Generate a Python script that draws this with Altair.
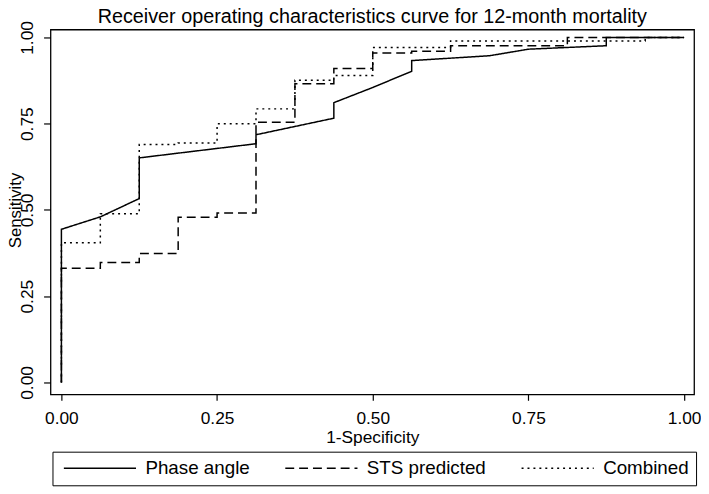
import altair as alt
import pandas as pd

series_names = ["Phase angle", "STS predicted", "Combined"]

pa_x = [0, 0, 0.0625, 0.125, 0.125, 0.3125, 0.3125, 0.4375, 0.4375, 0.5, 0.5625, 0.5625, 0.6875, 0.75, 0.875, 0.875, 1.0]
pa_y = [0, 0.444, 0.48, 0.533, 0.651, 0.692, 0.718, 0.766, 0.811, 0.855, 0.902, 0.933, 0.947, 0.966, 0.976, 1.0, 1.0]

sts_x = [0, 0, 0.0625, 0.0625, 0.125, 0.125, 0.1875, 0.1875, 0.25, 0.25, 0.3125, 0.3125, 0.375, 0.375,
         0.4375, 0.4375, 0.5, 0.5, 0.5625, 0.5625, 0.625, 0.625, 0.8125, 0.8125, 1.0]
sts_y = [0, 0.331, 0.331, 0.348, 0.348, 0.374, 0.374, 0.479, 0.479, 0.491, 0.491, 0.754, 0.754, 0.866,
         0.866, 0.910, 0.910, 0.955, 0.955, 0.96, 0.96, 0.976, 0.976, 1.0, 1.0]

comb_x = [0, 0, 0.0625, 0.0625, 0.125, 0.125, 0.1875, 0.1875, 0.25, 0.25, 0.3125, 0.3125, 0.375, 0.375,
          0.4375, 0.4375, 0.5, 0.5, 0.625, 0.625, 0.9375, 0.9375, 1.0]
comb_y = [0, 0.405, 0.405, 0.489, 0.489, 0.69, 0.69, 0.694, 0.694, 0.75, 0.75, 0.793, 0.793, 0.876,
          0.876, 0.890, 0.890, 0.971, 0.971, 0.99, 0.99, 1.0, 1.0]

tick_values = [0, 0.25, 0.5, 0.75, 1.0]

rows = []
for name, xs, ys in zip(series_names, [pa_x, sts_x, comb_x], [pa_y, sts_y, comb_y]):
    for i, (xv, yv) in enumerate(zip(xs, ys)):
        rows.append({"series": name, "fpr": xv, "tpr": yv, "order": i})
df = pd.DataFrame(rows)

FONT = "Liberation Sans"

chart = alt.Chart(df).mark_line(color="black", strokeWidth=1.5).encode(
    x=alt.X("fpr:Q",
            scale=alt.Scale(domain=[-0.0175, 1.016], nice=False, zero=False),
            axis=alt.Axis(values=tick_values, format=".2f", title="1-Specificity",
                          grid=False, domain=False, tickSize=6, tickColor="black", tickWidth=1.2,
                          labelFontSize=17.5, labelFont=FONT, labelColor="black", labelPadding=9,
                          labelBaseline="top", labelFlush=False,
                          titleFontSize=17.5, titleFont=FONT, titleFontWeight="normal", titleColor="black",
                          titleX=325.5, titleY=43.5, titleBaseline="middle")),
    y=alt.Y("tpr:Q",
            scale=alt.Scale(domain=[-0.0344, 1.0229], nice=False, zero=False),
            axis=alt.Axis(values=tick_values, format=".2f", title="Sensitivity",
                          grid=False, domain=False, tickSize=7, tickColor="black", tickWidth=1.2,
                          labelFontSize=17.5, labelFont=FONT, labelColor="black", labelAngle=270,
                          labelAlign="center", labelBaseline="alphabetic", labelPadding=11, labelFlush=False,
                          titleFontSize=17, titleFont=FONT, titleFontWeight="normal", titleColor="black",
                          titleAngle=270, titleX=-35.5, titleY=182.5, titleBaseline="middle", titleAlign="center")),
    strokeDash=alt.StrokeDash("series:N",
                              scale=alt.Scale(domain=series_names, range=[[1, 0], [9, 5], [2, 4]]),
                              legend=alt.Legend(title=None, orient="none", legendX=2, legendY=427,
                                                direction="horizontal", symbolType="M-1,0H13.6",
                                                symbolSize=100, symbolStrokeWidth=1.4,
                                                symbolStrokeColor="black", symbolFillColor="transparent",
                                                labelFontSize=19,
                                                labelFont=FONT, labelColor="black", labelOffset=68,
                                                strokeColor="black", padding=7, columnPadding=31)),
    order="order:Q",
).properties(
    width=651,
    height=369,
    title=alt.TitleParams("Receiver operating characteristics curve for 12-month mortality",
                          fontSize=20, font=FONT, fontWeight="normal", color="black",
                          anchor="middle", offset=4, dy=10.3),
    padding={"left": 43, "top": 19, "right": 7, "bottom": 98},
    autosize="none",
).configure_view(stroke="black", strokeWidth=1.3)

chart.save("out.html", embed_options={"renderer": "svg", "actions": False})
